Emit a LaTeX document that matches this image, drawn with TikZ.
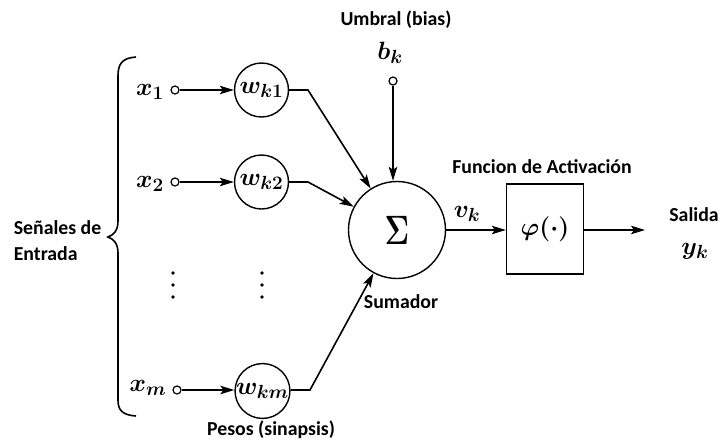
\RequirePackage{fix-cm}
\documentclass[tikz,border=0pt]{standalone}
\usepackage{fontspec}
\setmainfont{Carlito}
\DeclareMathSizes{25}{25}{19}{14}
\usetikzlibrary{arrows.meta,calc}

\begin{document}
\begin{tikzpicture}[x=1pt,y=-1pt,
  line width=1.6pt,
  tip/.style={-{Stealth[length=14pt,width=8.5pt,inset=3pt]}},
  mathfont/.style={font=\fontsize{25}{28}\selectfont\boldmath},
  weight/.style={draw,circle,line width=1.4pt,minimum size=54pt,inner sep=0pt,mathfont},
  terminal/.style={draw,circle,line width=1.2pt,minimum size=8pt,inner sep=0pt,fill=white},
  mathlbl/.style={inner sep=0pt,mathfont},
  caption/.style={inner sep=0pt,font=\bfseries\fontsize{19.8}{26}\selectfont},
  dot/.style={fill,circle,inner sep=0pt,minimum size=3.8pt}
]
\useasboundingbox (0,0) rectangle (721,445);

% inputs
\node[mathlbl] (x1) at (150,92) {$x_1$};
\node[mathlbl] (x2) at (150,184) {$x_2$};
\node[mathlbl] (xm) at (148,388) {$x_m$};
\node[terminal] (in1) at (175,90) {};
\node[terminal] (in2) at (175,182) {};
\node[terminal] (inm) at (177,390) {};

% synaptic weights
\node[weight] (w1) at (261.5,90) {$w_{k1}$};
\node[weight] (w2) at (261.5,182) {$w_{k2}$};
\node[weight] (wm) at (262.5,391) {$w_{km}$};

% elided rows
\foreach \yy in {273,285,297} {
  \node[dot] at (173,\yy) {};
  \node[dot] at (262,\yy) {};
}

% summing junction
\node[draw,circle,line width=1.4pt,minimum size=97pt,inner sep=0pt] (sum) at (397,230)
  {\scalebox{0.74}[1]{\fontsize{41}{41}\selectfont\boldmath$\Sigma$}};

% bias
\node[terminal] (bias) at (393,81) {};
\node[mathlbl] (bk) at (390,53) {$b_k$};

% activation function
\node[draw,line width=1.4pt,minimum width=77pt,minimum height=90pt,inner sep=0pt,
  mathfont] (phi) at (545,229) {$\varphi(\cdot)$};
\node[mathlbl] (vk) at (467,214) {$v_k$};
\coordinate (out) at (645,230);
\node[mathlbl] (yk) at (695,251) {$y_k$};

% bends of the weighted lines
\coordinate (k1) at (308,90);
\coordinate (k2) at (308,182);
\coordinate (km) at (310,390);

% connections
\draw[tip] (in1) -- (w1);
\draw[tip] (in2) -- (w2);
\draw[tip] (inm) -- (inm -| wm.west);
\draw[tip] (w1.east) -- (k1) -- (sum);
\draw[tip] (w2.east) -- (k2) -- (sum);
\draw[tip] (wm.east |- km) -- (km) -- (sum);
\draw[tip] (bias) -- (bias |- sum.north);
\draw[tip] (sum.east) -- (sum.east -| phi.west);
\draw[tip] (phi.east |- out) -- (out);

% brace around the inputs
\draw[line width=1.6pt] (136,57) .. controls (122,58) and (118,64) .. (118,76)
  -- (118,221) .. controls (118,230) and (114,235) .. (108,237)
  .. controls (114,239) and (118,244) .. (118,253)
  -- (118,400) .. controls (118,410) and (122,415) .. (136,416);

% captions
\node[caption] (umbral) at (396,20) {Umbral (bias)};
\node[caption] (func) at (542,167) {Funcion de Activación};
\node[caption] (salida) at (694,215) {Salida};
\node[caption] (sumador) at (401,302) {Sumador};
\node[caption] (pesos) at (271,430) {Pesos (sinapsis)};
\node[caption,anchor=base west] (senales) at (13,234) {Señales de};
\node[caption,anchor=base west] (entrada) at (13,260) {Entrada};
\end{tikzpicture}
\end{document}
